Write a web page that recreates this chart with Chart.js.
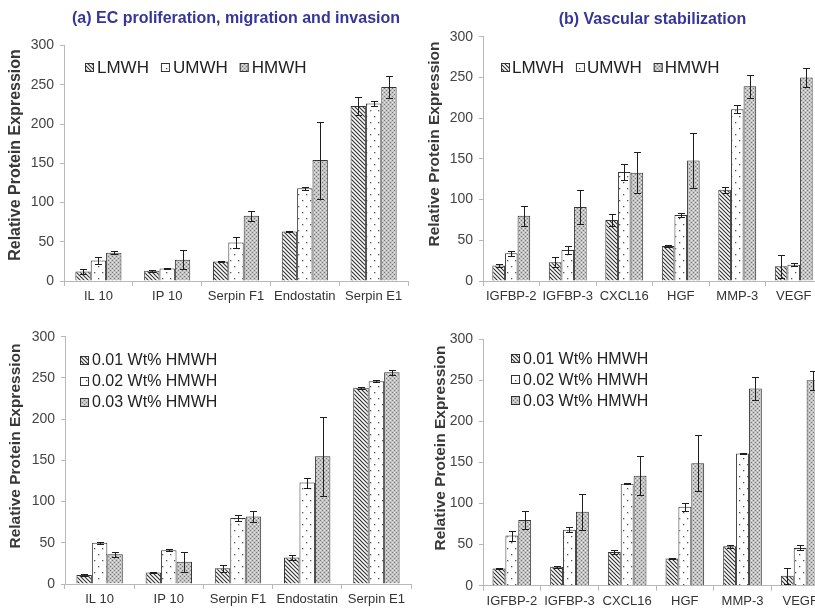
<!DOCTYPE html>
<html><head><meta charset="utf-8">
<script src="https://cdn.jsdelivr.net/npm/chart.js@4/dist/chart.umd.min.js"></script>
<style>
html,body{margin:0;padding:0;background:#fff;overflow:hidden;width:815px;height:608px;position:relative}
canvas{position:absolute}
</style></head><body>
<canvas id="cA" width="410" height="305" style="left:0;top:0"></canvas>
<canvas id="cB" width="430" height="305" style="left:405px;top:0"></canvas>
<canvas id="cC" width="413" height="308" style="left:0;top:300px"></canvas>
<canvas id="cD" width="440" height="308" style="left:405px;top:300px"></canvas>
<script>
// ---------- data ----------
const catsA = ['IL 10', 'IP 10', 'Serpin F1', 'Endostatin', 'Serpin E1'];
const catsB = ['IGFBP-2', 'IGFBP-3', 'CXCL16', 'HGF', 'MMP-3', 'VEGF'];
const seriesTop = ['LMWH', 'UMWH', 'HMWH'];
const seriesBottom = ['0.01 Wt% HMWH', '0.02 Wt% HMWH', '0.03 Wt% HMWH'];
const yTicks = [0, 50, 100, 150, 200, 250, 300];
const titleA = '(a) EC proliferation, migration and invasion';
const titleB = '(b) Vascular stabilization';
const yTitle = 'Relative Protein Expression';

// panel (a) top
const aL = [12, 13, 25, 63, 223];   const aLe = [3, 1, 0.5, 1, 12];
const aU = [26, 16, 49, 118, 226];  const aUe = [4, 1, 7, 2, 3];
const aH = [36, 27, 83, 154, 247];  const aHe = [2, 12, 6, 49, 14];
// panel (b) top
const bL = [19, 23, 75, 43, 112, 18];   const bLe = [2, 6, 7, 1, 4, 14];
const bU = [34, 38, 134, 81, 211, 20];  const bUe = [3, 5, 10, 3, 5, 2];
const bH = [80, 91, 133, 148, 239, 250]; const bHe = [12, 21, 25, 34, 14, 12];
// panel (a) bottom
const cL = [11, 14, 19, 32, 238];   const cLe = [1, 1, 4, 3, 1];
const cU = [50, 41, 80, 123, 246];  const cUe = [1, 1, 4, 6, 1];
const cH = [36, 27, 82, 155, 257];  const cHe = [3, 12, 7, 48, 3];
// panel (b) bottom
const dL = [21, 23, 41, 33, 48, 12];    const dLe = [0.5, 1, 2, 1, 2, 10];
const dU = [61, 68, 124, 96, 161, 46];  const dUe = [6, 3, 0.5, 5, 1, 3];
const dH = [80, 90, 134, 149, 240, 250]; const dHe = [11, 22, 24, 34, 14, 12];

// ---------- patterns ----------
function mkPattern(w, h, draw) {
  const c = document.createElement('canvas'); c.width = w; c.height = h;
  const g = c.getContext('2d'); draw(g, w, h);
  return g.createPattern(c, 'repeat');
}
const patHatch = mkPattern(4, 4, (g, w, h) => {
  g.fillStyle = '#fff'; g.fillRect(0, 0, w, h);
  g.strokeStyle = '#333'; g.lineWidth = 1.15;
  g.beginPath();
  g.moveTo(-1, -1); g.lineTo(5, 5);
  g.moveTo(-1, 3); g.lineTo(1, 5);
  g.moveTo(3, -1); g.lineTo(5, 1);
  g.stroke();
});
const patDots = mkPattern(8, 12, (g, w, h) => {
  g.fillStyle = '#fff'; g.fillRect(0, 0, w, h);
  g.fillStyle = '#555';
  g.fillRect(2, 2, 1.3, 1.3);
  g.fillRect(6, 8, 1.3, 1.3);
});
const patDense = mkPattern(4, 4, (g, w, h) => {
  g.fillStyle = '#c2c2c2'; g.fillRect(0, 0, w, h);
  g.fillStyle = '#7a7a7a';
  g.fillRect(0, 0, 1, 1); g.fillRect(2, 2, 1, 1);
  g.fillStyle = '#e6e6e6';
  g.fillRect(2, 0, 1, 1); g.fillRect(0, 2, 1, 1);
});
const patterns = [patHatch, patDots, patDense];

// ---------- plugins ----------
const FONT = '"Liberation Sans", Arial, sans-serif';
Chart.defaults.font.family = FONT;

const errPlugin = {
  id: 'errBars',
  afterDatasetsDraw(chart) {
    const ctx = chart.ctx, ys = chart.scales.y;
    ctx.save();
    ctx.strokeStyle = '#1e1e1e'; ctx.lineWidth = 1;
    chart.data.datasets.forEach((ds, i) => {
      const meta = chart.getDatasetMeta(i);
      meta.data.forEach((bar, j) => {
        const v = ds.data[j], e = ds.errors[j];
        const x = Math.round(bar.x) + 0.5;
        const t = Math.round(ys.getPixelForValue(v + e)) + 0.5;
        const b = Math.round(ys.getPixelForValue(v - e)) + 0.5;
        ctx.beginPath();
        ctx.moveTo(x, t); ctx.lineTo(x, b);
        ctx.moveTo(x - 3.5, t); ctx.lineTo(x + 3.5, t);
        ctx.moveTo(x - 3.5, b); ctx.lineTo(x + 3.5, b);
        ctx.stroke();
      });
    });
    ctx.restore();
  }
};

const legendPlugin = {
  id: 'inLegend',
  afterDraw(chart, args, opts) {
    const ctx = chart.ctx;
    ctx.save();
    ctx.font = opts.size + 'px ' + FONT;
    ctx.textBaseline = 'middle';
    let x = opts.x, y = opts.y;
    const s = opts.box;
    chart.data.datasets.forEach(ds => {
      const by = Math.round(y - s / 2);
      ctx.fillStyle = ds.backgroundColor; ctx.fillRect(x, by, s, s);
      ctx.strokeStyle = '#333'; ctx.lineWidth = 1;
      ctx.strokeRect(x + 0.5, by + 0.5, s - 1, s - 1);
      ctx.fillStyle = '#222';
      ctx.fillText(ds.label, x + s + opts.gap, y + 1);
      if (opts.vertical) y += opts.step;
      else x += s + opts.gap + ctx.measureText(ds.label).width + opts.itemGap;
    });
    ctx.restore();
  }
};

const yTitlePlugin = {
  id: 'yTitleFree',
  afterDraw(chart, args, opts) {
    const ctx = chart.ctx;
    ctx.save();
    ctx.translate(opts.x, opts.y);
    ctx.rotate(-Math.PI / 2);
    ctx.font = 'bold ' + opts.size + 'px ' + FONT;
    ctx.textAlign = 'center'; ctx.textBaseline = 'middle';
    ctx.fillStyle = '#383838';
    ctx.fillText(yTitle, 0, 0);
    ctx.restore();
  }
};

// ---------- chart builder ----------
function makeChart(id, cats, labels, vals, errs, cfg) {
  const datasets = labels.map((lab, i) => ({
    label: lab,
    data: vals[i],
    errors: errs[i],
    backgroundColor: patterns[i],
    borderColor: '#333',
    borderWidth: 1,
    categoryPercentage: 0.67,
    barPercentage: 1.0
  }));
  return new Chart(document.getElementById(id), {
    type: 'bar',
    data: { labels: cats, datasets },
    plugins: [errPlugin, legendPlugin, yTitlePlugin],
    options: {
      responsive: false,
      animation: false,
      devicePixelRatio: 1,
      layout: { padding: cfg.pad },
      plugins: {
        legend: { display: false },
        tooltip: { enabled: false },
        title: cfg.title ? {
          display: true, text: cfg.title, fullSize: false,
          color: '#35359a', font: { size: 16, weight: 'bold' },
          padding: cfg.titlePad
        } : { display: false },
        inLegend: cfg.legend,
        yTitleFree: cfg.ytitle
      },
      scales: {
        x: {
          offset: true,
          grid: { offset: true, drawOnChartArea: false, drawTicks: true, tickLength: 5, color: '#b8b8b8' },
          border: { color: '#b8b8b8' },
          ticks: { font: { size: 13 }, color: '#333', maxRotation: 0, autoSkip: false, padding: 3 },
          afterFit(s) { s.height = cfg.xh; }
        },
        y: {
          min: 0, max: 300,
          afterBuildTicks(s) { s.ticks = yTicks.map(v => ({ value: v })); },
          ticks: { font: { size: 14 }, color: '#444', padding: 6 },
          grid: { drawOnChartArea: false, drawTicks: true, tickLength: 4, color: '#b8b8b8' },
          border: { color: '#b8b8b8' },
          afterFit(s) { s.width = cfg.yw; }
        }
      }
    }
  });
}

makeChart('cA', catsA, seriesTop, [aL, aU, aH], [aLe, aUe, aHe], {
  pad: { top: 0, right: 2, left: 0, bottom: 0 },
  title: titleA, titlePad: { top: 9.4, bottom: 16.9 },
  xh: 24, yw: 64,
  legend: { x: 85, y: 67, size: 17, box: 9, gap: 3, itemGap: 12, vertical: false },
  ytitle: { x: 16, y: 155, size: 16 }
});
makeChart('cB', catsB, seriesTop, [bL, bU, bH], [bLe, bUe, bHe], {
  pad: { top: 0, right: 13, left: 0, bottom: 0 },
  title: titleB, titlePad: { top: 10.4, bottom: 7.1 },
  xh: 24, yw: 78,
  legend: { x: 96, y: 67, size: 17, box: 9, gap: 2, itemGap: 12, vertical: false },
  ytitle: { x: 30, y: 144, size: 15.5 }
});
makeChart('cC', catsA, seriesBottom, [cL, cU, cH], [cLe, cUe, cHe], {
  pad: { top: 36.7, right: 2, left: 0, bottom: 0 },
  title: null,
  xh: 24, yw: 65,
  legend: { x: 80, y: 60, size: 16, box: 9, gap: 3, step: 21, vertical: true },
  ytitle: { x: 16, y: 146, size: 15.5 }
});
makeChart('cD', catsB, seriesBottom, [dL, dU, dH], [dLe, dUe, dHe], {
  pad: { top: 39.3, right: 16, left: 0, bottom: 0 },
  title: null,
  xh: 22.3, yw: 78,
  legend: { x: 106, y: 58.5, size: 16, box: 9, gap: 3, step: 21, vertical: true },
  ytitle: { x: 36, y: 148, size: 15.5 }
});
</script>
</body></html>
